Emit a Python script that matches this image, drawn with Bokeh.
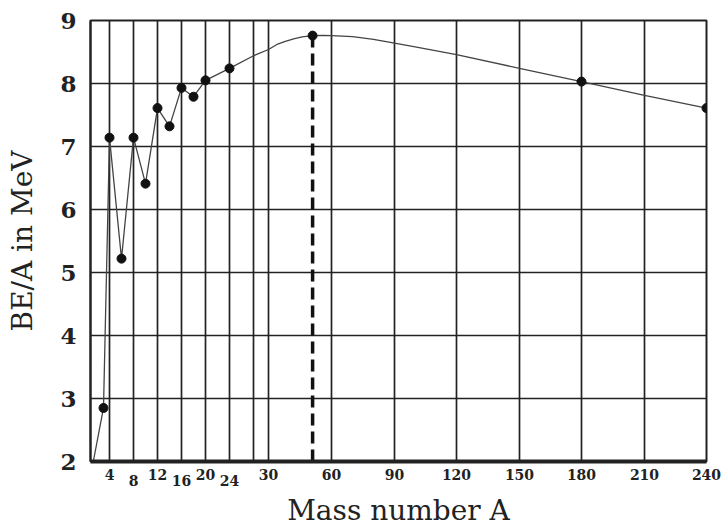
import numpy as np
from bokeh.plotting import figure
from bokeh.models import FixedTicker, LinearAxis
from bokeh.embed import file_html
from bokeh.resources import INLINE

# ---- data ----
light_A = [3, 4, 6, 8, 10, 12, 14, 16, 18, 20, 24]
light_BE = [2.85, 7.14, 5.22, 7.14, 6.41, 7.61, 7.32, 7.93, 7.79, 8.05, 8.24]
start_A = [1.3]
start_BE = [2.0]
curve_A = [24, 28, 30, 34, 38, 42, 46, 51, 56, 60, 70, 80, 90, 100, 120, 150, 180, 210, 240]
curve_BE = [8.24, 8.44, 8.54, 8.62, 8.67, 8.71, 8.74, 8.76, 8.765, 8.76, 8.745, 8.70, 8.64, 8.58,
            8.46, 8.24, 8.03, 7.81, 7.61]
heavy_A = [51, 180, 240]
heavy_BE = [8.76, 8.03, 7.61]
peak_A = 51
peak_BE = 8.76
tick_A = [4, 8, 12, 16, 20, 24, 28, 30, 60, 90, 120, 150, 180, 210, 240]
raised_labels = {4: "4", 12: "12", 20: "20", 30: "30", 60: "60", 90: "90", 120: "120",
                 150: "150", 180: "180", 210: "210", 240: "240"}
lowered_labels = {8: "8", 16: "16", 24: "24"}
y_ticks = [2, 3, 4, 5, 6, 7, 8, 9]

# ---- broken (piecewise-linear) mass-number scale ----
AX_A = [0, 28, 30, 60, 90, 120, 150, 180, 210, 240]
AX_U = [-5, 163, 178, 241, 304, 366, 429, 491, 554, 616]


def u(a):
    return np.interp(np.asarray(a, dtype=float), AX_A, AX_U)


FONT = "DejaVu Serif"
INK = "#222222"

p = figure(width=724, height=529, output_backend="svg", toolbar_location=None,
           x_range=(0, 616), y_range=(2, 9))
p.min_border_left = 90
p.min_border_right = 18
p.min_border_top = 20
p.min_border_bottom = 68
p.background_fill_color = "white"
p.border_fill_color = "white"
p.outline_line_color = INK
p.outline_line_width = 2

tick_u = [int(round(float(v))) for v in u(tick_A)]
up_over = {}
low_over = {}
for a, uu in zip(tick_A, tick_u):
    up_over[uu] = raised_labels.get(a, "")
    low_over[uu] = lowered_labels.get(a, "")

# main (upper) x axis
xa = p.xaxis[0]
xa.ticker = FixedTicker(ticks=tick_u)
xa.major_label_overrides = up_over
xa.minor_tick_line_color = None
xa.major_tick_line_color = None
xa.major_tick_out = 0
xa.major_tick_in = 0
xa.axis_line_color = INK
xa.axis_line_width = 4
xa.major_label_text_font = FONT
xa.major_label_text_font_size = "14px"
xa.major_label_text_font_style = "bold"
xa.major_label_text_color = INK
xa.major_label_standoff = 7

# second x axis carrying the lowered (staggered) labels and the title
xb = LinearAxis(ticker=FixedTicker(ticks=tick_u), major_label_overrides=low_over)
xb.axis_line_color = None
xb.minor_tick_line_color = None
xb.major_tick_line_color = None
xb.major_tick_out = 0
xb.major_tick_in = 0
xb.major_label_text_font = FONT
xb.major_label_text_font_size = "14px"
xb.major_label_text_font_style = "bold"
xb.major_label_text_color = INK
xb.major_label_standoff = -8
xb.axis_label = "Mass number A"
xb.axis_label_text_font = FONT
xb.axis_label_text_font_size = "28px"
xb.axis_label_text_font_style = "normal"
xb.axis_label_text_color = INK
xb.axis_label_standoff = 5
p.add_layout(xb, "below")

p.yaxis.ticker = FixedTicker(ticks=y_ticks)
p.yaxis.minor_tick_line_color = None
p.yaxis.major_tick_line_color = None
p.yaxis.major_tick_out = 0
p.yaxis.major_tick_in = 0
p.yaxis.axis_line_color = INK
p.yaxis.axis_line_width = 2
p.yaxis.major_label_text_font = FONT
p.yaxis.major_label_text_font_size = "23px"
p.yaxis.major_label_text_font_style = "bold"
p.yaxis.major_label_text_color = INK
p.yaxis.major_label_standoff = 14
p.yaxis.axis_label = "BE/A in MeV"
p.yaxis.axis_label_text_font = FONT
p.yaxis.axis_label_text_font_size = "28px"
p.yaxis.axis_label_text_font_style = "normal"
p.yaxis.axis_label_text_color = INK
p.yaxis.axis_label_standoff = 18

p.xgrid.ticker = FixedTicker(ticks=tick_u)
p.ygrid.ticker = FixedTicker(ticks=y_ticks)
for g in (p.xgrid, p.ygrid):
    g.grid_line_color = INK
    g.grid_line_width = 1.7
    g.grid_line_alpha = 1.0

# dashed line at the peak
p.segment(x0=[float(u(peak_A))], y0=[2.0], x1=[float(u(peak_A))], y1=[peak_BE],
          line_color="#111111", line_width=3.5, line_dash="12 6")

# polyline through light nuclei
line_A = start_A + light_A
line_BE = start_BE + light_BE
p.line(u(line_A), line_BE, line_color="#444444", line_width=1.3)
# smooth curve for heavier nuclei
p.line(u(curve_A), curve_BE, line_color="#444444", line_width=1.3)

p.scatter(u(light_A), light_BE, size=9, fill_color="#111111", line_color="#111111")
p.scatter(u(heavy_A), heavy_BE, size=9, fill_color="#111111", line_color="#111111")

open("out.html", "w").write(file_html(p, INLINE))
